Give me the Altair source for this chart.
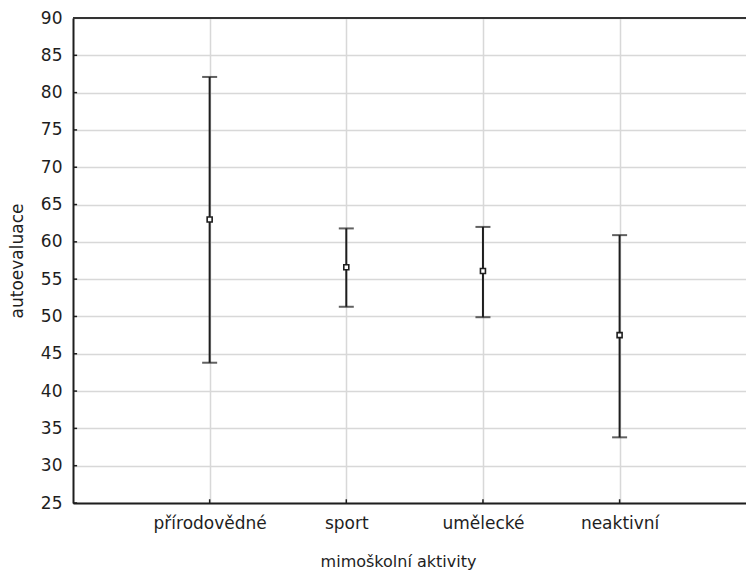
import altair as alt
import pandas as pd

# Mean and interval bounds of self-evaluation score per extracurricular activity group
categories = ["přírodovědné", "sport", "umělecké", "neaktivní"]
positions = [1, 2, 3, 4]
means = [63.0, 56.6, 56.1, 47.5]
lower = [43.8, 51.3, 49.9, 33.8]
upper = [82.1, 61.8, 62.0, 60.9]

y_ticks = list(range(25, 95, 5))

df = pd.DataFrame({
    "cat": categories,
    "pos": positions,
    "mean": means,
    "lo": lower,
    "hi": upper,
})
ticks_y = pd.DataFrame({"v": y_ticks})

FONT = "DejaVu Sans"
INK = "#1e1e1e"
GRID = "#d8d8d8"

label_expr = " : ".join(
    f"datum.value == {p} ? '{c}'" for p, c in zip(positions, categories)
) + " : ''"

x_scale = alt.Scale(domain=[0, 4.925], nice=False, zero=False)
y_scale = alt.Scale(domain=[25, 90], nice=False, zero=False)

x_axis = alt.Axis(
    values=positions,
    labelExpr=label_expr,
    title="mimoškolní aktivity",
    titleX=325,
    titleY=63,
    titleBaseline="alphabetic",
    titleAlign="center",
    ticks=False,
    labelPadding=12,
    labelOverlap=False,
    grid=True,
    gridColor=GRID,
    gridWidth=1.5,
    domainColor=INK,
    domainWidth=2,
    labelFontSize=17,
    titleFontSize=16,
)
y_axis = alt.Axis(
    values=y_ticks,
    title="autoevaluace",
    titleX=-51,
    titleBaseline="alphabetic",
    ticks=False,
    labelPadding=11,
    labelOverlap=False,
    labelFlush=False,
    grid=True,
    gridColor=GRID,
    gridWidth=1.5,
    domainColor=INK,
    domainWidth=2,
    labelFontSize=17,
    titleFontSize=17,
)


def xq(field):
    return alt.X(field, scale=x_scale, axis=x_axis)


def yq(field):
    return alt.Y(field, scale=y_scale, axis=y_axis)


base = alt.Chart(df)

whiskers = base.mark_rule(color=INK, strokeWidth=2).encode(
    x=xq("pos:Q"), y=yq("lo:Q"), y2="hi:Q"
)
cap_hi = base.mark_tick(orient="horizontal", color=INK, size=15, thickness=2).encode(
    x=xq("pos:Q"), y=yq("hi:Q")
)
cap_lo = base.mark_tick(orient="horizontal", color=INK, size=15, thickness=2).encode(
    x=xq("pos:Q"), y=yq("lo:Q")
)
points = base.mark_square(
    size=25, fill="white", stroke=INK, strokeWidth=1.6, opacity=1
).encode(x=xq("pos:Q"), y=yq("mean:Q"))

# inward tick marks on the two axes
x_ticks = base.mark_rule(color=INK, strokeWidth=1.5).encode(
    x=xq("pos:Q"),
    y=alt.datum(25, scale=y_scale, axis=y_axis),
    y2=alt.datum(25.5),
)
y_tick_marks = alt.Chart(ticks_y).mark_rule(color=INK, strokeWidth=1.5).encode(
    y=yq("v:Q"),
    x=alt.datum(0, scale=x_scale, axis=x_axis),
    x2=alt.datum(0.03),
)

# top frame line
top_line = alt.Chart(pd.DataFrame({"v": [90]})).mark_rule(
    color="#333333", strokeWidth=2
).encode(y=yq("v:Q"))

chart = (
    alt.layer(whiskers, cap_hi, cap_lo, x_ticks, y_tick_marks, top_line, points)
    .properties(
        width=673,
        height=485,
        autosize="none",
        padding={"left": 73, "top": 18, "right": 0, "bottom": 69},
    )
    .configure_view(stroke=None)
    .configure_axis(
        labelFont=FONT,
        titleFont=FONT,
        labelColor=INK,
        titleColor=INK,
        titleFontWeight="normal",
    )
)

chart.save("out.html", embed_options={"renderer": "svg", "actions": False})
